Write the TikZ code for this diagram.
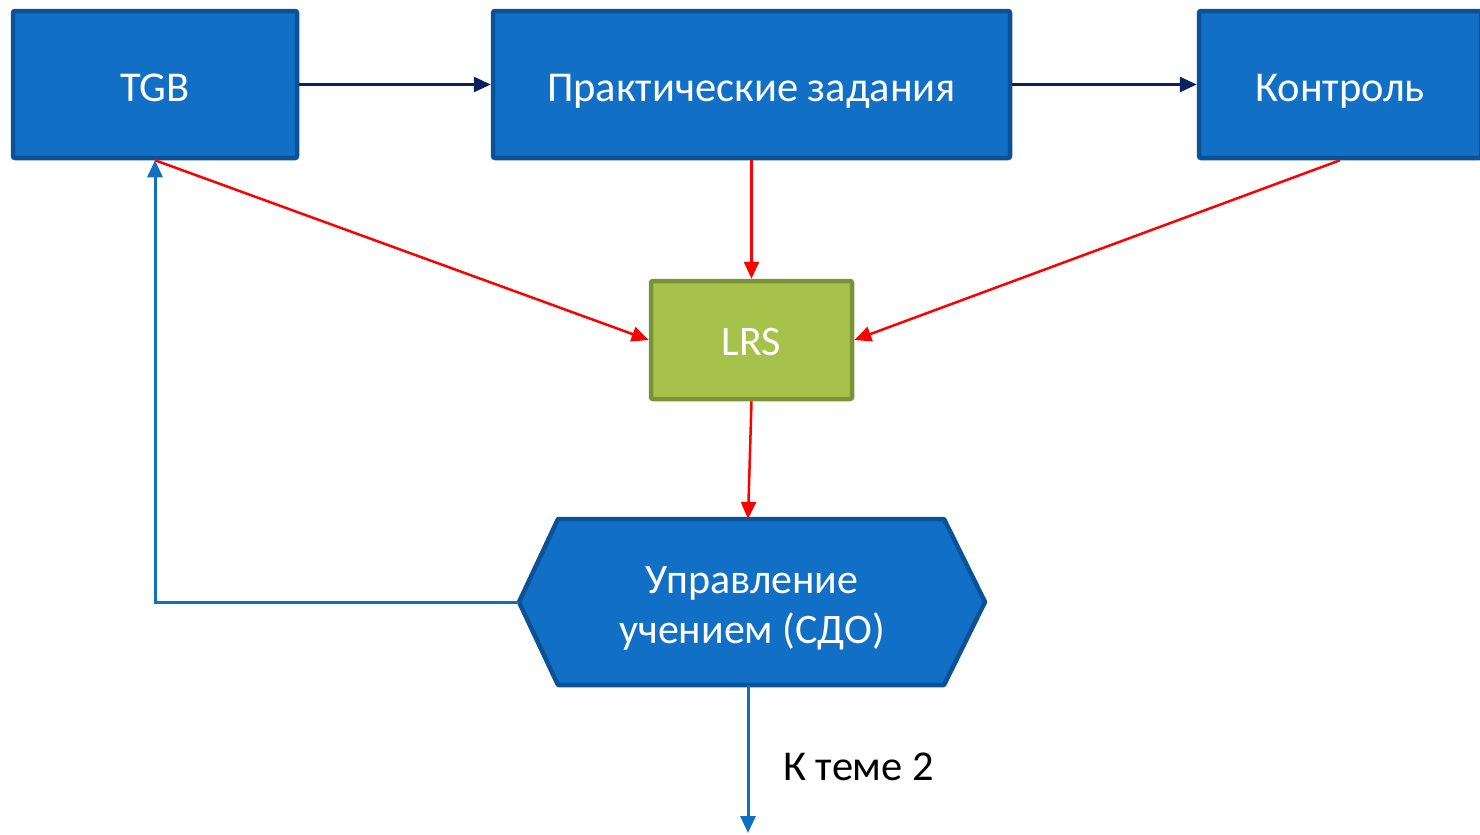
\documentclass[tikz,border=0pt]{standalone}
\usepackage{fontspec}
\setmainfont{Carlito}
\usetikzlibrary{arrows.meta}
\definecolor{boxblue}{HTML}{1170C6}
\definecolor{boxedge}{HTML}{0B5196}
\definecolor{lrsfill}{HTML}{A7C24A}
\definecolor{lrsedge}{HTML}{7B9338}
\definecolor{navyline}{HTML}{0A2060}
\definecolor{blueline}{HTML}{0E70C0}
\tikzset{
  bluebox/.style={draw=boxedge, fill=boxblue, line width=4.5pt, rounded corners=2pt,
    text=white, font=\fontsize{42.5}{50}\selectfont, inner sep=0pt, align=center,
    text height=33pt, text depth=0pt},
  greenbox/.style={draw=lrsedge, fill=lrsfill, line width=4.5pt, rounded corners=2pt,
    text=white, font=\fontsize{42}{50}\selectfont, inner sep=0pt,
    text height=30pt, text depth=0pt},
  hexshape/.style={draw=boxedge, fill=boxblue, line width=4.5pt, line join=round},
  tip/.style={-{Triangle[length=17pt,width=15pt]}},
  navyarrow/.style={tip, draw=navyline, line width=3pt},
  redarrow/.style={tip, draw=red, line width=2.5pt},
  bluearrow/.style={tip, draw=blueline, line width=3pt},
  hextext/.style={text=white, font=\fontsize{42}{50}\selectfont, align=center, inner sep=0pt},
  plainlabel/.style={font=\fontsize{42.5}{50}\selectfont, text=black, inner sep=0pt}
}
\begin{document}
\begin{tikzpicture}[x=1pt,y=-1pt]
\useasboundingbox (0,0) rectangle (1480,835);
% boxes
\node[bluebox, minimum width=284pt, minimum height=147pt] (tgb) at (155,84.5) {TGB};
\node[bluebox, minimum width=517pt, minimum height=147pt] (prak) at (751.5,84.5) {Практические задания};
\node[bluebox, minimum width=282pt, minimum height=147pt] (kontr) at (1340,84.5) {Контроль};
\node[greenbox, minimum width=201pt, minimum height=118pt] (lrs) at (751.5,340) {LRS};
% hexagon
\coordinate (hL) at (519,602);
\coordinate (hTL) at (558,519);
\coordinate (hTR) at (944,519);
\coordinate (hR) at (985,602);
\coordinate (hBR) at (944,685);
\coordinate (hBL) at (558,685);
\coordinate (hTop) at (748,519);
\coordinate (hBot) at (748,685);
\draw[hexshape] (hL) -- (hTL) -- (hTR) -- (hR) -- (hBR) -- (hBL) -- cycle;
\node[hextext] (sdo) at (752,608) {Управление\\учением (СДО)};
% connectors
\draw[navyarrow] (tgb.east) -- (prak.west);
\draw[navyarrow] (prak.east) -- (kontr.west);
\draw[redarrow] (tgb.south) -- (lrs.west);
\draw[redarrow] (prak.south) -- (lrs.north);
\draw[redarrow] (kontr.south) -- (lrs.east);
\draw[redarrow] (lrs.south) -- (hTop);
\coordinate (corner) at (155,602);
\draw[bluearrow] (hL) -- (corner) -- (tgb.south);
\coordinate (down) at (748,833);
\draw[bluearrow] (hBot) -- (down);
\node[plainlabel, anchor=west] (k2) at (783,767) {К теме 2};
\end{tikzpicture}
\end{document}
